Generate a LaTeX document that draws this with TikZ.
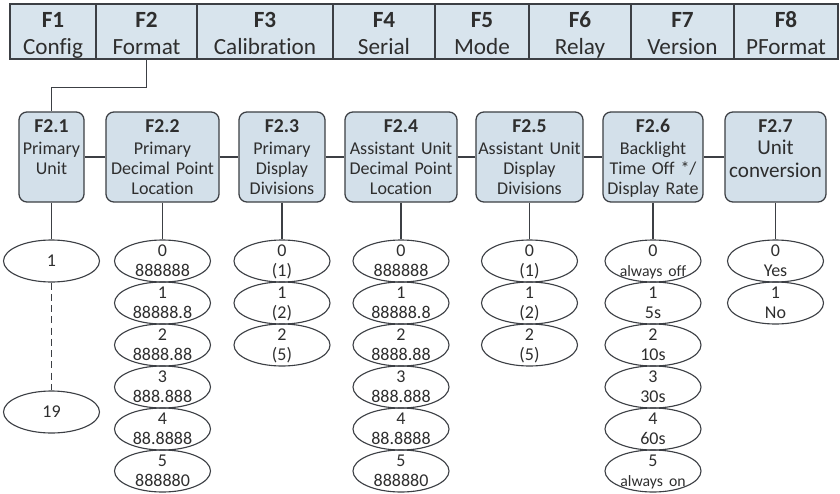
\documentclass[tikz,border=0pt]{standalone}
\usepackage{fontspec}
\setmainfont{Carlito}[Ligatures={NoCommon}]
\usetikzlibrary{shapes.geometric}
\definecolor{linie}{HTML}{3C3F44}
\definecolor{leiste}{HTML}{D8E4ED}
\definecolor{kasten}{HTML}{D3E0EA}
\definecolor{schrift}{HTML}{2E2E2E}
\newcommand{\kopf}[1]{{\fontsize{14}{14.2}\selectfont\bfseries #1}\\[2pt]}
\newcommand{\klein}[1]{{\fontsize{11.2}{13}\selectfont #1}}
\newcommand{\gross}[1]{{\fontsize{15}{16.5}\selectfont #1}}

\begin{document}
\begin{tikzpicture}[x=0.025cm, y=-0.025cm,
    breite/.style={minimum width=#1, text width=#1},
    menu/.style={draw=linie, fill=leiste, line width=0.9pt, text=schrift, minimum height=1.375cm, inner sep=0pt, align=center, text height=6pt, text depth=12.4pt, font=\fontsize{16.5}{19.8}\selectfont},
    sub/.style={draw=linie, fill=kasten, line width=0.9pt, text=schrift, rounded corners=0.2cm, minimum height=2.25cm, inner sep=0pt, align=center, text height=9pt, text depth=44.4pt, font=\fontsize{12.8}{14.2}\selectfont},
    opt/.style={ellipse, draw=linie, line width=0.8pt, text=schrift, minimum width=2.4cm, minimum height=1.05cm, text width=1.69cm, inner sep=0pt, align=center, text height=5pt, text depth=11.1pt, font=\fontsize{12.8}{14.2}\selectfont},
    single/.style={text height=8pt, text depth=0pt},
    verbinder/.style={draw=linie, line width=0.8pt}]
        \useasboundingbox (0, 0) rectangle (840, 493);

        % Menueleiste
        \node[menu, breite=2.15cm] (f1) at (53, 31.5) {\textbf{F1}\\Config};
        \node[menu, breite=2.525cm] (f2) at (146.5, 31.5) {\textbf{F2}\\Format};
        \node[menu, breite=3.4cm] (f3) at (265, 31.5) {\textbf{F3}\\Calibration};
        \node[menu, breite=2.55cm] (f4) at (384, 31.5) {\textbf{F4}\\Serial};
        \node[menu, breite=2.35cm] (f5) at (482, 31.5) {\textbf{F5}\\Mode};
        \node[menu, breite=2.55cm] (f6) at (580, 31.5) {\textbf{F6}\\Relay};
        \node[menu, breite=2.575cm] (f7) at (682.5, 31.5) {\textbf{F7}\\Version};
        \node[menu, breite=2.6cm] (f8) at (786, 31.5) {\textbf{F8}\\PFormat};

        % Untermenues
        \node[sub, breite=1.625cm] (s21) at (51.5, 157) {\kopf{F2.1}Primary\\Unit};
        \node[sub, breite=2.825cm] (s22) at (162.5, 157) {\kopf{F2.2}Primary\\Decimal Point\\Location};
        \node[sub, breite=2.15cm] (s23) at (282, 157) {\kopf{F2.3}Primary\\Display\\Divisions};
        \node[sub, breite=2.8cm] (s24) at (401, 157) {\kopf{F2.4}Assistant Unit\\Decimal Point\\Location};
        \node[sub, breite=2.675cm] (s25) at (529.5, 157) {\kopf{F2.5}Assistant Unit\\Display\\Divisions};
        \node[sub, breite=2.5cm] (s26) at (653, 157) {\kopf{F2.6}Backlight\\Time Off */\\Display Rate};
        \node[sub, breite=2.525cm] (s27) at (775.5, 157) {\kopf{F2.7}\gross{Unit}\\[2pt]\gross{conversion}};

        % Optionen F2.1
        \node[opt, single] (o21-a) at (51.5, 261) {1};
        \node[opt, single] (o21-b) at (51.5, 412) {19};

        % Optionen F2.2
        \node[opt] (o22-0) at (162.5, 261) {0\\888888};
        \node[opt] (o22-1) at (162.5, 303) {1\\88888.8};
        \node[opt] (o22-2) at (162.5, 345) {2\\8888.88};
        \node[opt] (o22-3) at (162.5, 387) {3\\888.888};
        \node[opt] (o22-4) at (162.5, 429) {4\\88.8888};
        \node[opt] (o22-5) at (162.5, 471) {5\\888880};

        % Optionen F2.3
        \node[opt] (o23-0) at (282, 261) {0\\(1)};
        \node[opt] (o23-1) at (282, 303) {1\\(2)};
        \node[opt] (o23-2) at (282, 345) {2\\(5)};

        % Optionen F2.4
        \node[opt] (o24-0) at (401, 261) {0\\888888};
        \node[opt] (o24-1) at (401, 303) {1\\88888.8};
        \node[opt] (o24-2) at (401, 345) {2\\8888.88};
        \node[opt] (o24-3) at (401, 387) {3\\888.888};
        \node[opt] (o24-4) at (401, 429) {4\\88.8888};
        \node[opt] (o24-5) at (401, 471) {5\\888880};

        % Optionen F2.5
        \node[opt] (o25-0) at (529.5, 261) {0\\(1)};
        \node[opt] (o25-1) at (529.5, 303) {1\\(2)};
        \node[opt] (o25-2) at (529.5, 345) {2\\(5)};

        % Optionen F2.6
        \node[opt] (o26-0) at (653, 261) {0\\\klein{always off}};
        \node[opt] (o26-1) at (653, 303) {1\\5s};
        \node[opt] (o26-2) at (653, 345) {2\\10s};
        \node[opt] (o26-3) at (653, 387) {3\\30s};
        \node[opt] (o26-4) at (653, 429) {4\\60s};
        \node[opt] (o26-5) at (653, 471) {5\\\klein{always on}};

        % Optionen F2.7
        \node[opt] (o27-0) at (775.5, 261) {0\\Yes};
        \node[opt] (o27-1) at (775.5, 303) {1\\No};

        % Verbindungen
        \draw[verbinder] (f2.south) -- ++(0, 28) -| (s21.north);
        \draw[verbinder] (s21) -- (s22);
        \draw[verbinder] (s22) -- (s23);
        \draw[verbinder] (s23) -- (s24);
        \draw[verbinder] (s24) -- (s25);
        \draw[verbinder] (s25) -- (s26);
        \draw[verbinder] (s26) -- (s27);
        \draw[verbinder] (s21.south) -- (o21-a.north);
        \draw[verbinder, dash pattern=on 5pt off 3pt] (o21-a.south) -- (o21-b.north);
        \draw[verbinder] (s22.south) -- (o22-0.north);
        \draw[verbinder] (s23.south) -- (o23-0.north);
        \draw[verbinder] (s24.south) -- (o24-0.north);
        \draw[verbinder] (s25.south) -- (o25-0.north);
        \draw[verbinder] (s26.south) -- (o26-0.north);
        \draw[verbinder] (s27.south) -- (o27-0.north);

    \end{tikzpicture}
\end{document}
